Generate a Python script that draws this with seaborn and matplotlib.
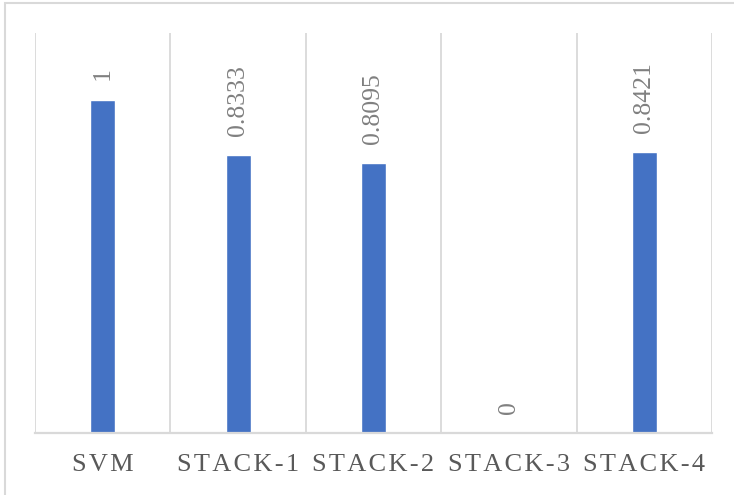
import matplotlib
matplotlib.use("Agg")
import matplotlib.pyplot as plt
from matplotlib.patches import Rectangle
import seaborn as sns
import pandas as pd

models = ["SVM", "STACK-1", "STACK-2", "STACK-3", "STACK-4"]
scores = [1.0, 0.8333, 0.8095, 0.0, 0.8421]
score_labels = ["1", "0.8333", "0.8095", "0", "0.8421"]

sns.set_theme(style="white")
plt.rcParams["font.family"] = ["Liberation Serif", "DejaVu Serif"]

df = pd.DataFrame({"model": models, "score": scores})

fig = plt.figure(figsize=(7.34, 4.95), dpi=100)
ax = fig.add_axes([35 / 734, 1 - 433 / 495, 677 / 734, 400 / 495])

sns.barplot(data=df, x="model", y="score", color="#4472C4", saturation=1,
            width=0.185, ax=ax)

ax.set_xlim(-0.5, len(models) - 0.5)
ax.set_ylim(0, 1.2)

# vertical separators between categories
for b in range(len(models) + 1):
    ax.axvline(b - 0.5, color="#d9d9d9", lw=1.3, zorder=0)

for s in ["top", "right", "left"]:
    ax.spines[s].set_visible(False)
ax.spines["bottom"].set_color("#d9d9d9")
ax.spines["bottom"].set_linewidth(1.6)

ax.set_yticks([])
ax.set_xlabel("")
ax.set_ylabel("")
spaced = ["\u200a".join(m) for m in models]
ax.set_xticks(range(len(models)))
ax.set_xticklabels(spaced, fontsize=19, color="#595959")
ax.tick_params(axis="x", length=0, pad=15)

for i, (v, lab) in enumerate(zip(scores, score_labels)):
    ax.annotate(lab, (i, v), xytext=(0, 14), textcoords="offset points",
                rotation=90, ha="center", va="bottom", fontsize=18.5,
                color="#808080")

# outer chart frame
fig.patches.append(Rectangle((5 / 734, -0.1), 1.2, 1 - 3 / 495 + 0.1,
                             transform=fig.transFigure, fill=False,
                             edgecolor="#d9d9d9", lw=1.5, zorder=0))

fig.savefig("out.png", dpi=100)
